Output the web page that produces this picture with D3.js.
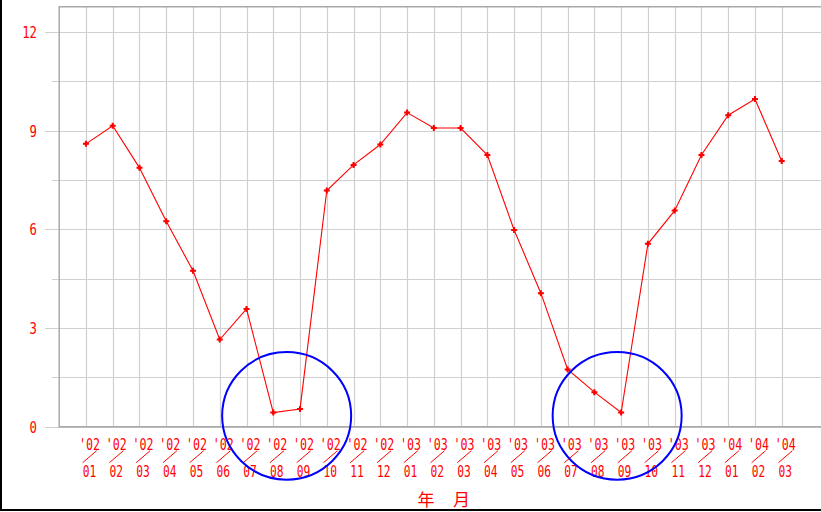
<!DOCTYPE html>
<html>
<head>
<meta charset="utf-8">
<script src="https://cdn.jsdelivr.net/npm/d3@7/dist/d3.min.js"></script>
<style>
  html, body { margin: 0; padding: 0; background: #fff; }
  svg { display: block; }
</style>
</head>
<body>
<svg id="chart" width="821" height="512"></svg>
<script>
// Monthly series, Jan 2002 – Mar 2004
const years  = ["'02","'02","'02","'02","'02","'02","'02","'02","'02","'02","'02","'02",
                "'03","'03","'03","'03","'03","'03","'03","'03","'03","'03","'03","'03",
                "'04","'04","'04"];
const months = ["01","02","03","04","05","06","07","08","09","10","11","12",
                "01","02","03","04","05","06","07","08","09","10","11","12",
                "01","02","03"];
const values = [8.60, 9.15, 7.87, 6.25, 4.74, 2.65, 3.58, 0.43, 0.54, 7.18, 7.96, 8.58,
                9.55, 9.08, 9.08, 8.26, 5.98, 4.06, 1.74, 1.05, 0.43, 5.56, 6.57, 8.26,
                9.47, 9.96, 8.08];
const yTicks = [0, 3, 6, 9, 12];
const yGrid  = [0, 1.5, 3, 4.5, 6, 7.5, 9, 10.5, 12];
const axisTitle = ["年", "月"];
// Highlighted low periods: centre (month index, value)
const highlights = [{ at: 7.5, v: 0.33 }, { at: 19.85, v: 0.33 }];

(function () {
  const svg = d3.select("#chart");
  const W = 821;
  const plotLeft = 59.2, plotTop = 6.7, plotBottom = 426.7;

  const x = d3.scaleLinear().domain([-1, 28]).range([plotLeft, plotLeft + 29 * 26.76]);
  const y = d3.scaleLinear().domain([0, 12.77]).range([plotBottom, plotTop]);
  const red = "#ff0000";

  // grid
  const grid = svg.append("g");
  grid.selectAll("line.h").data(yGrid).join("line")
    .attr("x1", d => yTicks.includes(d) ? 45 : 52).attr("x2", W)
    .attr("y1", d => Math.round(y(d)) + 0.5).attr("y2", d => Math.round(y(d)) + 0.5)
    .attr("stroke", "#d0d0d0").attr("stroke-width", 1.2);
  grid.selectAll("line.v").data(values).join("line")
    .attr("x1", (d, i) => Math.round(x(i)) + 0.5).attr("x2", (d, i) => Math.round(x(i)) + 0.5)
    .attr("y1", plotTop).attr("y2", plotBottom)
    .attr("stroke", "#d0d0d0").attr("stroke-width", 1.2);

  // plot frame (top, left, bottom)
  svg.append("path")
    .attr("d", `M${W},${plotTop} H${plotLeft} V${plotBottom} H${W}`)
    .attr("fill", "none").attr("stroke", "#a8a8a8").attr("stroke-width", 1.5);

  // y tick labels, horizontally compressed
  const yAxis = svg.append("g")
    .attr("transform", "translate(37,0) scale(0.82,1)")
    .call(d3.axisLeft(y).tickValues(yTicks).tickSize(0).tickPadding(0).tickFormat(d3.format("d")));
  yAxis.select(".domain").remove();
  yAxis.selectAll("text")
    .attr("fill", red)
    .attr("font-family", "'DejaVu Sans Mono', monospace")
    .attr("font-size", 15)
    .attr("text-anchor", "end")
    .attr("x", 0)
    .attr("dy", "0.36em");

  // x labels: year, slash, month
  const xl = svg.append("g").attr("fill", red)
    .attr("font-family", "'DejaVu Sans Mono', monospace").attr("font-size", 16);
  const groups = xl.selectAll("g").data(values).join("g")
    .attr("transform", (d, i) => `translate(${x(i)},0)`);
  groups.append("text").text((d, i) => years[i])
    .attr("x", -7).attr("y", 449.5)
    .attr("textLength", 21).attr("lengthAdjust", "spacingAndGlyphs");
  groups.append("line")
    .attr("x1", -3.3).attr("y1", 462.7).attr("x2", 10.7).attr("y2", 450.7)
    .attr("stroke", red).attr("stroke-width", 1);
  groups.append("text").text((d, i) => months[i])
    .attr("x", -3.3).attr("y", 477)
    .attr("textLength", 13.5).attr("lengthAdjust", "spacingAndGlyphs");

  // axis title
  svg.append("g").selectAll("text").data(axisTitle).join("text")
    .text(d => d)
    .attr("x", (d, i) => 426 + i * 35.5).attr("y", 505.5)
    .attr("text-anchor", "middle")
    .attr("fill", red)
    .attr("font-family", "'Noto Sans CJK JP', sans-serif")
    .attr("font-size", 17);

  // series line + star-like markers (cross over a small rotated square)
  const line = d3.line().x((d, i) => x(i)).y(d => y(d));
  svg.append("path").datum(values)
    .attr("d", line).attr("fill", "none")
    .attr("stroke", red).attr("stroke-width", 1.1);
  const marks = svg.append("g").selectAll("g").data(values).join("g")
    .attr("transform", (d, i) => `translate(${x(i)},${y(d)})`)
    .attr("fill", red);
  marks.append("path").attr("d", d3.symbol().type(d3.symbolCross).size(20));
  marks.append("path").attr("d", d3.symbol().type(d3.symbolSquare).size(10))
    .attr("transform", "rotate(45)");

  // highlight rings
  svg.append("g").selectAll("ellipse").data(highlights).join("ellipse")
    .attr("cx", d => x(d.at)).attr("cy", d => y(d.v))
    .attr("rx", 64.5).attr("ry", 63.8)
    .attr("fill", "none").attr("stroke", "#0000ff").attr("stroke-width", 2);

  // outer frame: left and bottom edges
  svg.append("path")
    .attr("d", `M1,0 V510 H${W}`)
    .attr("fill", "none").attr("stroke", "#000").attr("stroke-width", 2);
})();
</script>
</body>
</html>
